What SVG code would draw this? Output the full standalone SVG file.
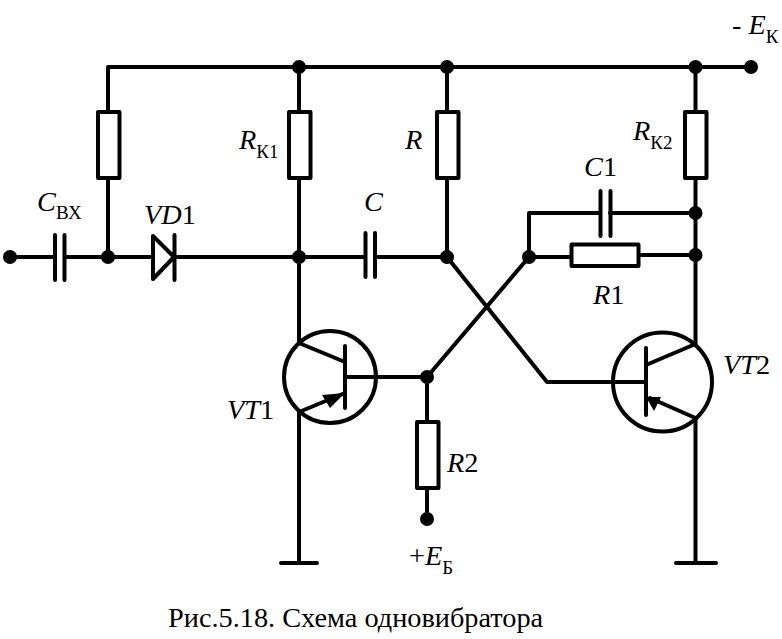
<svg xmlns="http://www.w3.org/2000/svg" width="782" height="639" viewBox="0 0 782 639">
<style>
.w{fill:none;stroke:#000;stroke-width:4;stroke-linecap:round;stroke-linejoin:round}
.b{fill:#fff;stroke:#000;stroke-width:4;stroke-linejoin:round}
.d{fill:#000;stroke:none}
text{font-family:"Liberation Serif",serif;font-size:28.3px;fill:#000}
.i{font-style:italic}
.s{font-size:19px}
</style>
<rect width="782" height="639" fill="#fff"/>
<g id="connectors" class="w">
<path d="M108 257V67H751"/>
<path d="M299 67V111M299 178V343M299 412V563M281 563H317"/>
<path d="M447 67V111M447 178V257"/>
<path d="M695.500 67V111M695.500 178V344M695.500 418V563M676 563H716"/>
<path d="M10 257H55M65 257H152M175 257H365M375 257H447"/>
<path d="M447 257L547 382H612"/>
<path d="M529 257L427 377H377"/>
<path d="M529 257V213H600M610 213H696"/>
<path d="M529 257H571M639 255H696"/>
<path d="M427 377V421M427 489V519"/>
</g>
<g id="Cvx" class="w"><path d="M55 235V280M64.500 235V280"/></g>
<g id="VD1" class="w"><path d="M153 236V279L174 257ZM174.500 235V280"/></g>
<g id="C" class="w"><path d="M365.500 233V277M375 233V277"/></g>
<g id="C1" class="w"><path d="M600.500 191V236M610.500 191V236"/></g>
<g id="RvxTop"><rect class="b" x="98" y="112" width="21.500" height="66"/></g>
<g id="RK1"><rect class="b" x="289" y="112" width="21.500" height="66"/></g>
<g id="Rn"><rect class="b" x="437" y="112" width="21.500" height="66"/></g>
<g id="RK2"><rect class="b" x="685" y="112" width="21.500" height="66"/></g>
<g id="R1"><rect class="b" x="571.500" y="244.500" width="67" height="21.500"/></g>
<g id="R2"><rect class="b" x="417" y="422" width="21.500" height="66"/></g>
<g id="VT1" class="w">
<circle cx="330" cy="377" r="46"/>
<path d="M299 343L345 362M345 346V408M345 377H377M299 412L345 393"/>
<path class="d" d="M322 395L345 393L330 408Z"/>
</g>
<g id="VT2" class="w">
<circle cx="662.500" cy="382" r="49.500"/>
<path d="M695.500 344L646 365M646 348V415M612 382H646M695.500 418L650 398"/>
<path class="d" d="M646 397L661 397L654 411Z"/>
</g>
<g id="dots" class="d">
<circle cx="10" cy="257" r="7"/><circle cx="108" cy="257" r="7"/><circle cx="299" cy="257" r="7"/><circle cx="447" cy="257" r="7"/>
<circle cx="529" cy="257" r="7"/><circle cx="695.500" cy="255" r="7"/><circle cx="695.500" cy="213" r="7"/><circle cx="299" cy="67" r="7"/>
<circle cx="447" cy="67" r="7"/><circle cx="695.500" cy="67" r="7"/><circle cx="751" cy="67" r="7"/><circle cx="427" cy="377" r="7"/><circle cx="427" cy="519" r="7"/>
</g>
<g id="labels">
<text x="732" y="34">- <tspan class="i">E</tspan><tspan class="s" dy="9">К</tspan></text>
<text x="37" y="211" class="i">C<tspan class="s" dy="8" font-style="normal">ВХ</tspan></text>
<text x="144" y="224"><tspan class="i">VD</tspan>1</text>
<text x="239" y="149" class="i">R<tspan class="s" dy="9" font-style="normal">К1</tspan></text>
<text x="405" y="149" class="i">R</text>
<text x="364" y="211" class="i">C</text>
<text x="584" y="176"><tspan class="i">C</tspan>1</text>
<text x="633" y="140" class="i">R<tspan class="s" dy="9" font-style="normal">К2</tspan></text>
<text x="593" y="304"><tspan class="i">R</tspan>1</text>
<text x="723" y="374"><tspan class="i">VT</tspan>2</text>
<text x="227" y="419"><tspan class="i">VT</tspan>1</text>
<text x="447" y="472"><tspan class="i">R</tspan>2</text>
<text x="409" y="565">+<tspan class="i">E</tspan><tspan class="s" dy="9">Б</tspan></text>
<text x="168" y="627">Рис.5.18. Схема одновибратора</text>
</g>
</svg>
